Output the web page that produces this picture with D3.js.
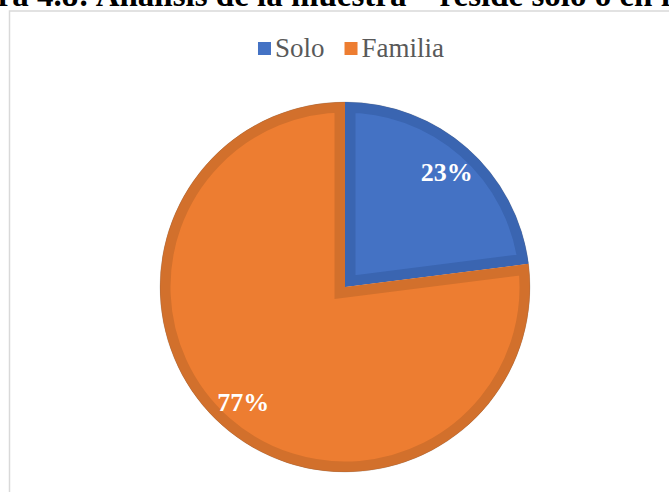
<!DOCTYPE html>
<html>
<head>
<meta charset="utf-8">
<script src="https://cdn.jsdelivr.net/npm/d3@7/dist/d3.min.js"></script>
<style>
  html, body { margin: 0; padding: 0; background: #ffffff; }
  svg { display: block; }
  svg text { font-family: "Liberation Serif", "Times New Roman", Times, "DejaVu Serif", serif; }
</style>
</head>
<body>
<svg id="chart" width="669" height="492"></svg>
<script>
// Sample composition: lives alone vs. with family
const categories = ["Solo", "Familia"];
const shares = [23, 77];
const labels = ["23%", "77%"];
const fillColors = ["#4472C4", "#ED7D31"];
const edgeColors = ["#3A65B1", "#D2702C"];
const titleText = "Figura 4.8: Análisis de la muestra – reside solo o en familia";

const W = 669, H = 492;
const svg = d3.select("#chart");

// Caption above the chart frame (sits partly above the top edge)
const title = svg.append("text")
  .attr("y", 6)
  .style("font-weight", "bold")
  .style("font-size", "33px")
  .attr("fill", "#000")
  .text(titleText);
// align so that "4.8:" begins at x = 37
const prefixLen = titleText.indexOf("4.8");
const prefixW = title.node().getSubStringLength(0, prefixLen);
title.attr("x", 37 - prefixW);

// Chart area frame
svg.append("rect")
  .attr("x", 9.5).attr("y", 11)
  .attr("width", 700).attr("height", 500)
  .attr("fill", "#ffffff")
  .attr("stroke", "#d9d9d9")
  .attr("stroke-width", 1.5);

// Legend
const legend = svg.append("g");
let lx = 0;
categories.forEach((c, i) => {
  const g = legend.append("g");
  g.append("rect")
    .attr("x", lx).attr("y", -7)
    .attr("width", 13).attr("height", 13)
    .attr("fill", fillColors[i]);
  const t = g.append("text")
    .attr("x", lx + 17).attr("y", 8)
    .style("font-size", "27px")
    .attr("fill", "#595959")
    .text(c);
  lx += 17 + t.node().getComputedTextLength() + 20;
});
const legendW = lx - 20;
legend.attr("transform", `translate(${351 - legendW / 2},${49})`);

// Pie
const cx = 345, cy = 287, r = 185;
const pie = d3.pie().sort(null).value(d => d)(shares);
const arc = d3.arc().innerRadius(0).outerRadius(r);
const labelArc = d3.arc().innerRadius(r * 0.832).outerRadius(r * 0.832);

const pg = svg.append("g").attr("transform", `translate(${cx},${cy})`);
const defs = svg.append("defs");

pie.forEach((p, i) => {
  const id = "slice-clip-" + i;
  defs.append("clipPath").attr("id", id)
    .append("path").attr("d", arc(p));
  pg.append("path")
    .attr("d", arc(p))
    .attr("clip-path", `url(#${id})`)
    .attr("fill", fillColors[i])
    .attr("stroke", edgeColors[i])
    .attr("stroke-width", 21)
    .attr("stroke-linejoin", "miter");
});

// faint outer rim
pg.append("circle")
  .attr("r", r)
  .attr("fill", "none")
  .attr("stroke", "rgba(90,90,90,0.25)")
  .attr("stroke-width", 0.8);

// Percentage labels
pie.forEach((p, i) => {
  const [x, y] = labelArc.centroid(p);
  pg.append("text")
    .attr("x", x).attr("y", y + 9)
    .attr("text-anchor", "middle")
    .style("font-weight", "bold")
    .style("font-size", "26px")
    .attr("fill", "#ffffff")
    .text(labels[i]);
});
</script>
</body>
</html>
